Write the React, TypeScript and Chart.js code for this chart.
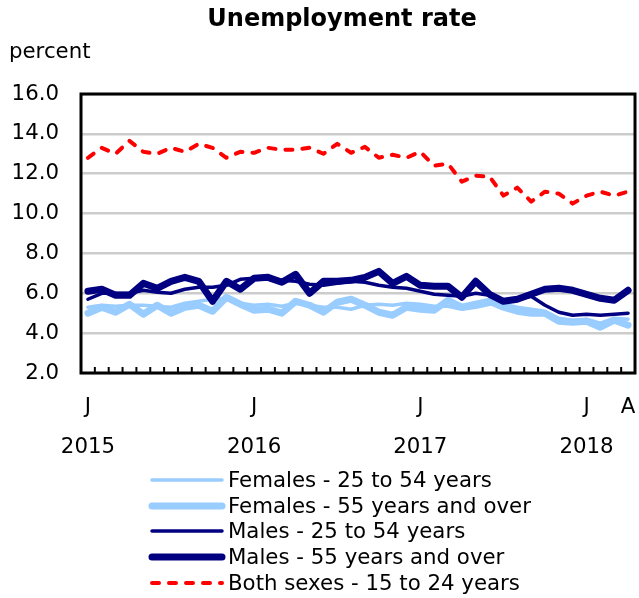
import React, { useEffect, useRef } from "react";
import { Chart, registerables } from "chart.js";

Chart.register(...registerables);

const months = [
  "2015-01","2015-02","2015-03","2015-04","2015-05","2015-06","2015-07","2015-08","2015-09","2015-10","2015-11","2015-12",
  "2016-01","2016-02","2016-03","2016-04","2016-05","2016-06","2016-07","2016-08","2016-09","2016-10","2016-11","2016-12",
  "2017-01","2017-02","2017-03","2017-04","2017-05","2017-06","2017-07","2017-08","2017-09","2017-10","2017-11","2017-12",
  "2018-01","2018-02","2018-03","2018-04",
];

const monthTickLabels: Record<number, string> = { 0: "J", 12: "J", 24: "J", 36: "J", 39: "A" };
const yearTickLabels: Record<number, string> = { 0: "2015", 12: "2016", 24: "2017", 36: "2018" };

const females25to54 = [
  5.3, 5.4, 5.35, 5.4, 5.4, 5.35, 5.3, 5.5, 5.6, 5.7, 5.75, 5.5,
  5.4, 5.45, 5.35, 5.5, 5.4, 5.3, 5.3, 5.2, 5.4, 5.45, 5.4, 5.5,
  5.45, 5.35, 5.35, 5.2, 5.3, 5.45, 5.45, 5.3, 5.2, 5.1, 4.75, 4.65,
  4.7, 4.5, 4.75, 4.7,
];
const females55plus = [
  5.0, 5.3, 5.05, 5.45, 4.95, 5.4, 5.0, 5.3, 5.4, 5.1, 5.8, 5.45,
  5.15, 5.2, 5.0, 5.6, 5.4, 5.05, 5.55, 5.7, 5.4, 5.05, 4.9, 5.3,
  5.2, 5.15, 5.65, 5.3, 5.45, 5.6, 5.3, 5.1, 5.0, 5.0, 4.6, 4.55,
  4.6, 4.3, 4.65, 4.4,
];
const males25to54 = [
  5.7, 6.0, 6.0, 6.0, 6.15, 6.05, 6.0, 6.2, 6.3, 6.3, 6.4, 6.7,
  6.75, 6.8, 6.65, 6.6, 6.45, 6.4, 6.5, 6.6, 6.55, 6.4, 6.3, 6.25,
  6.1, 5.95, 5.9, 5.85, 6.0, 5.9, 5.55, 5.7, 5.85, 5.4, 5.05, 4.9,
  4.95, 4.9, 4.95, 5.0,
];
const males55plus = [
  6.1, 6.2, 5.9, 5.9, 6.5, 6.25, 6.6, 6.8, 6.6, 5.6, 6.6, 6.2,
  6.75, 6.8, 6.55, 6.95, 6.0, 6.6, 6.6, 6.65, 6.8, 7.1, 6.5, 6.85,
  6.4, 6.35, 6.35, 5.8, 6.6, 5.95, 5.6, 5.7, 5.95, 6.2, 6.25, 6.15,
  5.95, 5.75, 5.65, 6.15,
];
const bothSexes15to24 = [
  12.8, 13.3, 13.0, 13.65, 13.1, 13.0, 13.3, 13.1, 13.5, 13.3, 12.8, 13.1,
  13.05, 13.3, 13.2, 13.2, 13.3, 13.0, 13.5, 13.05, 13.35, 12.8, 12.95, 12.8,
  13.1, 12.4, 12.5, 11.6, 11.9, 11.85, 10.9, 11.3, 10.6, 11.1, 11.0, 10.5,
  10.9, 11.1, 10.9, 11.1,
];

const seriesLabels = [
  "Females - 25 to 54 years",
  "Females - 55 years and over",
  "Males - 25 to 54 years",
  "Males - 55 years and over",
  "Both sexes - 15 to 24 years",
];

const FONT = "'DejaVu Sans', Verdana, sans-serif";
const TEXT_SIZE = 21.3;
const LIGHT = "#99ccff";
const NAVY = "#000080";
const RED = "#ff0000";

const decorPlugin = {
  id: "decor",
  afterDraw(chart: any) {
    const ctx = chart.ctx;
    const { left, right, top, bottom } = chart.chartArea;
    ctx.save();
    // inward tick marks on the x axis
    const n = chart.data.labels.length;
    ctx.strokeStyle = "#000";
    ctx.lineWidth = 2;
    for (let i = 0; i <= n; i++) {
      const x = left + (i * (right - left)) / n;
      ctx.beginPath();
      ctx.moveTo(x, bottom);
      ctx.lineTo(x, bottom - 6);
      ctx.stroke();
    }
    // plot border
    ctx.lineWidth = 3;
    ctx.strokeRect(left, top, right - left, bottom - top);

    // title
    ctx.fillStyle = "#000";
    ctx.textBaseline = "middle";
    ctx.textAlign = "center";
    ctx.font = `bold 24px ${FONT}`;
    ctx.fillText("Unemployment rate", 342, 20);
    // unit
    ctx.textAlign = "left";
    ctx.font = `${TEXT_SIZE}px ${FONT}`;
    ctx.fillText("percent", 9, 52);

    // legend
    const rowY = [480, 506, 531, 557, 583];
    chart.data.datasets.forEach((ds: any, i: number) => {
      const y = rowY[i];
      ctx.beginPath();
      ctx.strokeStyle = ds.borderColor;
      ctx.lineWidth = ds.borderWidth;
      ctx.lineCap = "round";
      ctx.setLineDash(ds.borderDash || []);
      ctx.moveTo(152, y);
      ctx.lineTo(222, y);
      ctx.stroke();
      ctx.setLineDash([]);
      ctx.fillStyle = "#000";
      ctx.font = `${TEXT_SIZE}px ${FONT}`;
      ctx.textAlign = "left";
      ctx.textBaseline = "middle";
      ctx.fillText(ds.label, 228, y + 1);
    });
    ctx.restore();
  },
};

export default function App() {
  const ref = useRef<HTMLCanvasElement | null>(null);
  useEffect(() => {
    if (!ref.current) return;
    const lineBase = {
      fill: false,
      pointRadius: 0,
      tension: 0,
      borderJoinStyle: "round" as const,
      borderCapStyle: "round" as const,
    };
    const chart = new Chart(ref.current, {
      type: "line",
      data: {
        labels: months,
        datasets: [
          { ...lineBase, label: seriesLabels[0], data: females25to54, borderColor: LIGHT, borderWidth: 3.5, order: 4 },
          { ...lineBase, label: seriesLabels[1], data: females55plus, borderColor: LIGHT, borderWidth: 7, order: 3 },
          { ...lineBase, label: seriesLabels[2], data: males25to54, borderColor: NAVY, borderWidth: 3.5, order: 2 },
          { ...lineBase, label: seriesLabels[3], data: males55plus, borderColor: NAVY, borderWidth: 7, order: 1 },
          { ...lineBase, label: seriesLabels[4], data: bothSexes15to24, borderColor: RED, borderWidth: 4, borderDash: [7, 10], order: 0 },
        ],
      },
      options: {
        responsive: false,
        animation: false,
        layout: { padding: { top: 94, right: 4, left: 0, bottom: 0 } },
        plugins: { legend: { display: false }, title: { display: false }, tooltip: { enabled: false } },
        scales: {
          x: {
            type: "category",
            offset: true,
            grid: { display: false, drawTicks: false },
            border: { display: false },
            afterFit: (s: any) => {
              s.height = 225;
              s.paddingLeft = 0;
              s.paddingRight = 0;
            },
            ticks: {
              autoSkip: false,
              maxRotation: 0,
              minRotation: 0,
              padding: 24,
              color: "#000",
              font: { family: FONT, size: TEXT_SIZE, lineHeight: 0.95 },
              callback: (_v: any, i: number) => {
                const m = monthTickLabels[i];
                if (m === undefined) return "";
                return [m, "", yearTickLabels[i] ?? ""];
              },
            },
          },
          y: {
            min: 2,
            max: 16,
            afterFit: (s: any) => {
              s.width = 81;
              s.paddingTop = 0;
              s.paddingBottom = 0;
            },
            grid: { color: "#cccccc", lineWidth: 2.5, drawTicks: false },
            border: { display: false },
            ticks: {
              stepSize: 2,
              padding: 22,
              color: "#000",
              font: { family: FONT, size: TEXT_SIZE },
              callback: (v: any) => Number(v).toFixed(1),
            },
          },
        },
      },
      plugins: [decorPlugin],
    });
    return () => chart.destroy();
  }, []);
  return (
    <div style={{ position: "fixed", left: 0, top: 0, width: 639, height: 598, background: "#fff" }}>
      <canvas ref={ref} width={639} height={598} style={{ display: "block" }} />
    </div>
  );
}
